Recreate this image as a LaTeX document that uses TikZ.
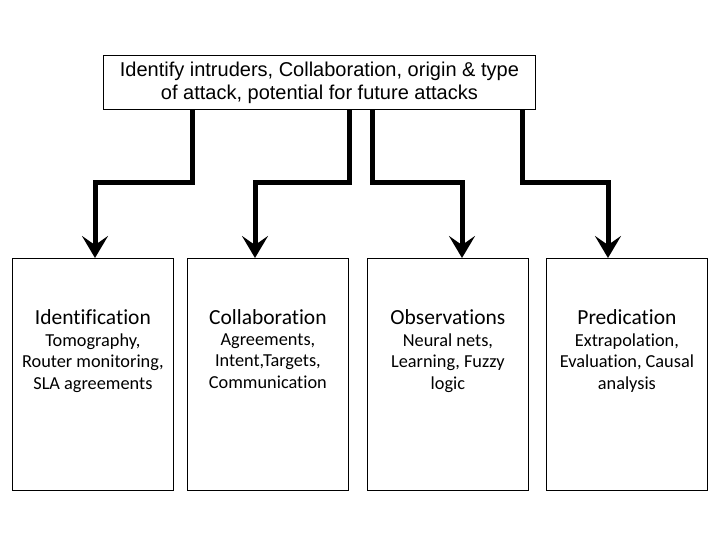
\documentclass[tikz,border=0pt]{standalone}
\usepackage{fontspec}
\setmainfont{Carlito}[RawFeature={-liga}]
\newfontfamily\arialf{Liberation Sans}
\usetikzlibrary{arrows.meta}
\begin{document}
\begin{tikzpicture}[x=1pt,y=-1pt,
  box/.style={draw,line width=0.8pt,minimum width=161pt,minimum height=232pt,anchor=north west,inner sep=0pt},
  conn/.style={line width=5pt,-{Stealth[length=22pt,width=26pt,inset=9pt]}}]
\useasboundingbox (0,0) rectangle (720,540);
\node[draw,line width=0.8pt,minimum width=432pt,minimum height=54pt,anchor=north west,inner sep=0pt,align=center,font=\arialf\fontsize{20}{23}\selectfont] (top) at (103,55) {Identify intruders, Collaboration, origin \& type\\of attack, potential for future attacks};
\node[box] (b1) at (12,258) {};
\node[box] (b2) at (187,258) {};
\node[box] (b3) at (367,258) {};
\node[box] (b4) at (546,258) {};
\foreach \n/\t/\d in {b1/Identification/{Tomography,\\Router monitoring,\\SLA agreements},
  b2/Collaboration/{Agreements,\\Intent,Targets,\\Communication},
  b3/Observations/{Neural nets,\\Learning, Fuzzy\\logic},
  b4/Predication/{Extrapolation,\\Evaluation, Causal\\analysis}}{
  \node[font=\fontsize{21.5}{24}\selectfont] (\n t) at ([yshift=-59pt]\n.north) {\t};
  \node[anchor=north,align=center,font=\fontsize{18.3}{21.7}\selectfont] (\n d) at ([yshift=-72pt]\n.north) {\d};
}
\draw[conn] (top.south -| 192,0) |- (95,183) -- (b1.north -| 95,0);
\draw[conn] (top.south -| 349,0) |- (255,183) -- (b2.north -| 255,0);
\draw[conn] (top.south -| 372,0) |- (462,183) -- (b3.north -| 462,0);
\draw[conn] (top.south -| 522,0) |- (608,183) -- (b4.north -| 608,0);
\end{tikzpicture}
\end{document}
